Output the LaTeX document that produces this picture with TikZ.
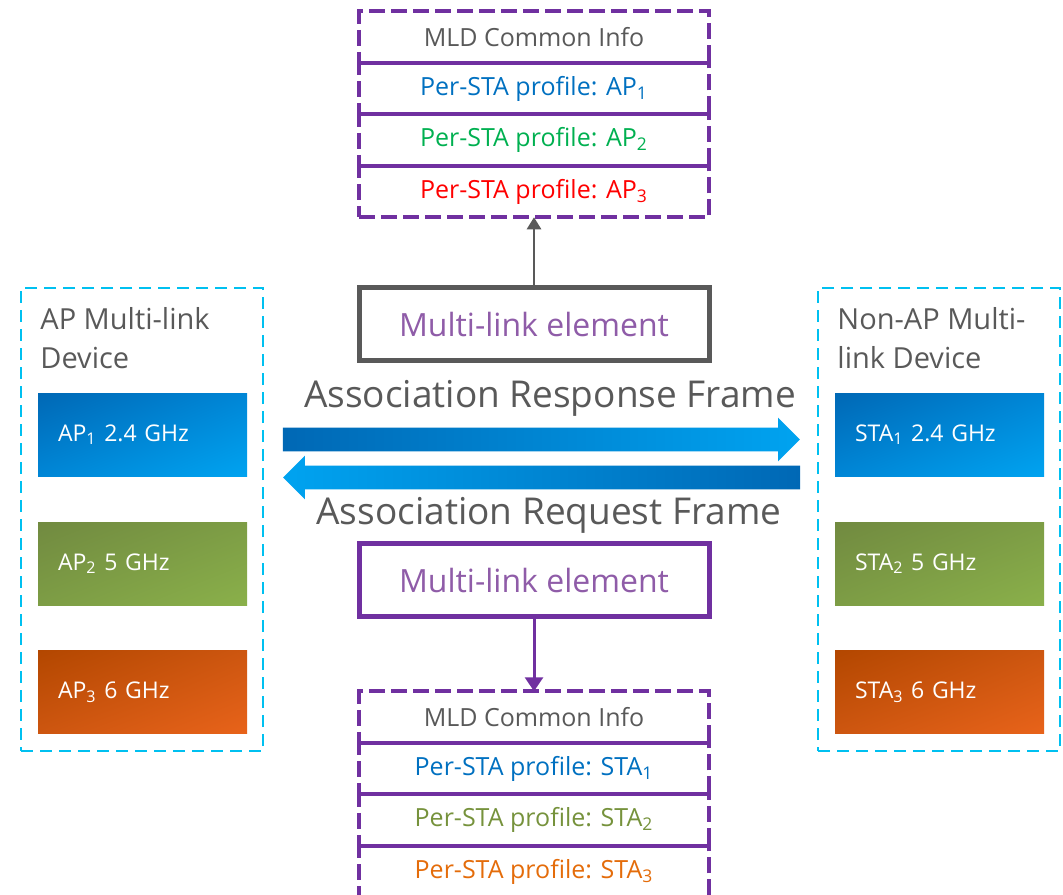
\documentclass[tikz,border=0pt]{standalone}
\usepackage{fontspec}
\setmainfont{Open Sans}
\usetikzlibrary{positioning,arrows.meta,shapes.arrows,shadings}
\definecolor{mlpurple}{RGB}{112,48,160}
\definecolor{mltext}{RGB}{143,92,168}
\definecolor{txtgray}{RGB}{89,89,89}
\definecolor{devcyan}{RGB}{0,192,240}
\definecolor{apblue}{RGB}{0,112,192}
\definecolor{apgreen}{RGB}{0,176,80}
\definecolor{apred}{RGB}{255,0,0}
\definecolor{staolive}{RGB}{118,146,60}
\definecolor{staorange}{RGB}{228,108,10}
\definecolor{bluedark}{RGB}{0,104,181}
\definecolor{bluemid}{RGB}{0,134,214}
\definecolor{bluelight}{RGB}{0,163,240}
\definecolor{greendark}{RGB}{113,138,64}
\definecolor{greenmid}{RGB}{125,157,69}
\definecolor{greenlight}{RGB}{138,176,74}
\definecolor{orangedark}{RGB}{179,71,0}
\definecolor{orangemid}{RGB}{205,86,16}
\definecolor{orangelight}{RGB}{232,99,26}

\begin{document}
\begin{tikzpicture}[
  x=0.5pt, y=-0.5pt,
  row/.style={draw=mlpurple, line width=2pt, dash pattern=on 8pt off 3pt, minimum width=175pt, minimum height=25.75pt, inner sep=0pt, outer sep=0pt, font=\fontsize{12.5}{15}\selectfont},
  mlbox/.style={line width=2.5pt, minimum width=175pt, minimum height=36.5pt, text=mltext, font=\fontsize{16}{19}\selectfont},
  device/.style={draw=devcyan, line width=1.2pt, dash pattern=on 6pt off 3.5pt, minimum width=121pt, minimum height=231.5pt, outer sep=0pt},
  devlabel/.style={anchor=north west, align=left, inner sep=0pt, text=txtgray, font=\fontsize{14.5}{19.5}\selectfont},
  band/.style={minimum width=104.5pt, minimum height=41.5pt, text width=84.5pt, inner xsep=10pt, inner ysep=0pt, align=left, text=white, font=\fontsize{11.5}{14}\selectfont},
  band24/.style={band, upper left=bluedark, upper right=bluemid, lower left=bluemid, lower right=bluelight},
  band5/.style={band, upper left=greendark, upper right=greenmid, lower left=greenmid, lower right=greenlight},
  band6/.style={band, upper left=orangedark, upper right=orangemid, lower left=orangemid, lower right=orangelight},
  framelabel/.style={anchor=base, inner sep=0pt, text=txtgray, font=\fontsize{18.5}{22}\selectfont},
  flow/.style={single arrow, single arrow head extend=5pt, minimum height=258.5pt, inner xsep=0pt, inner ysep=5.75pt}
]
  \useasboundingbox (0,0) rectangle (1063,894);

  % response side
  \node[row, text=txtgray] (rspcommon) at (534,37) {MLD Common Info};
  \node[row, text=apblue, below=0pt of rspcommon] (rspap1) {Per-STA profile: AP\textsubscript{1}};
  \node[row, text=apgreen, below=0pt of rspap1] (rspap2) {Per-STA profile: AP\textsubscript{2}};
  \node[row, text=apred, below=0pt of rspap2] (rspap3) {Per-STA profile: AP\textsubscript{3}};
  \node[mlbox, draw=txtgray] (rspml) at (534,324) {Multi-link element};
  \draw[txtgray, line width=1.3pt, -{Triangle[length=6pt,width=7pt]}] (rspml) -- (rspap3);
  \node[framelabel] (rsptext) at (550,407) {Association Response Frame};
  \node[flow, left color=bluedark, right color=bluelight] (rsparrow) at (535.5,439.5) {};

  % request side
  \node[flow, shape border rotate=180, left color=bluelight, right color=bluedark] (reqarrow) at (547.5,477.5) {};
  \node[framelabel] (reqtext) at (549,524) {Association Request Frame};
  \node[mlbox, draw=mlpurple] (reqml) at (534,580) {Multi-link element};
  \node[row, text=txtgray] (reqcommon) at (534,717) {MLD Common Info};
  \node[row, text=apblue, below=0pt of reqcommon] (reqsta1) {Per-STA profile: STA\textsubscript{1}};
  \node[row, text=staolive, below=0pt of reqsta1] (reqsta2) {Per-STA profile: STA\textsubscript{2}};
  \node[row, text=staorange, below=0pt of reqsta2] (reqsta3) {Per-STA profile: STA\textsubscript{3}};
  \draw[mlpurple, line width=1.5pt, -{Triangle[length=7pt,width=9pt]}] (reqml) -- (reqcommon);

  % multi-link devices
  \node[device] (apmld) at (142,519.5) {};
  \node[devlabel] (aptitle) at (40,307) {AP Multi-link\\Device};
  \node[band24] (ap1) at (142.5,434.5) {AP\textsubscript{1} 2.4 GHz};
  \node[band5] (ap2) at (142.5,563.5) {AP\textsubscript{2} 5 GHz};
  \node[band6] (ap3) at (142.5,692) {AP\textsubscript{3} 6 GHz};

  \node[device] (stamld) at (939,519.5) {};
  \node[devlabel] (statitle) at (837,307) {Non-AP Multi-\\link Device};
  \node[band24] (sta1) at (939.5,434.5) {STA\textsubscript{1} 2.4 GHz};
  \node[band5] (sta2) at (939.5,563.5) {STA\textsubscript{2} 5 GHz};
  \node[band6] (sta3) at (939.5,692) {STA\textsubscript{3} 6 GHz};
\end{tikzpicture}
\end{document}
